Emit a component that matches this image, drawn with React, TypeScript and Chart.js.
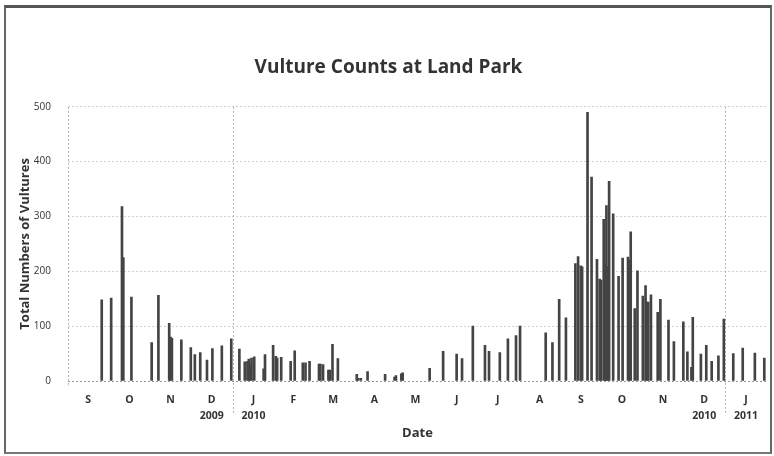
import { useEffect, useRef } from 'react';
import { Chart, registerables } from 'chart.js';

Chart.register(...registerables);

const chartTitle = 'Vulture Counts at Land Park';
const xTitle = 'Date';
const yTitle = 'Total Numbers of Vultures';

const axisStart = '2009-09-01';
const monthCount = 17;
const monthLabels = ['S', 'O', 'N', 'D', 'J', 'F', 'M', 'A', 'M', 'J', 'J', 'A', 'S', 'O', 'N', 'D', 'J'];
const yearLabels = ['', '', '', '2009', '2010', '', '', '', '', '', '', '', '', '', '', '2010', '2011'];
const yearBreaks = ['2010-01-01', '2011-01-01'];
const yMax = 500;
const yStep = 100;

const surveyDates = [
  '2009-09-26', '2009-10-03', '2009-10-11', '2009-10-12', '2009-10-18', '2009-11-02', '2009-11-07',
  '2009-11-15', '2009-11-16', '2009-11-17', '2009-11-24', '2009-12-01', '2009-12-04', '2009-12-08',
  '2009-12-13', '2009-12-17', '2009-12-24', '2009-12-31',
  '2010-01-06', '2010-01-10', '2010-01-12', '2010-01-13', '2010-01-14', '2010-01-15', '2010-01-17',
  '2010-01-24', '2010-01-25', '2010-01-31', '2010-02-02', '2010-02-03', '2010-02-06', '2010-02-13',
  '2010-02-16', '2010-02-22', '2010-02-24', '2010-02-27', '2010-03-06', '2010-03-07', '2010-03-09',
  '2010-03-13', '2010-03-14', '2010-03-16', '2010-03-20', '2010-04-03', '2010-04-04', '2010-04-06',
  '2010-04-11', '2010-04-24', '2010-05-01', '2010-05-02', '2010-05-06', '2010-05-07', '2010-05-27',
  '2010-06-06', '2010-06-16', '2010-06-20', '2010-06-28', '2010-07-07', '2010-07-10', '2010-07-18',
  '2010-07-24', '2010-07-30', '2010-08-02', '2010-08-21', '2010-08-26', '2010-08-31', '2010-09-05',
  '2010-09-12', '2010-09-14', '2010-09-16', '2010-09-17', '2010-09-21', '2010-09-24', '2010-09-28',
  '2010-09-30', '2010-10-01', '2010-10-03', '2010-10-04', '2010-10-05', '2010-10-06', '2010-10-07',
  '2010-10-10', '2010-10-14', '2010-10-17', '2010-10-21', '2010-10-22', '2010-10-23', '2010-10-26',
  '2010-10-28', '2010-11-01', '2010-11-03', '2010-11-04', '2010-11-05', '2010-11-07', '2010-11-12',
  '2010-11-14', '2010-11-20', '2010-11-24', '2010-12-01', '2010-12-04', '2010-12-07', '2010-12-08',
  '2010-12-14', '2010-12-18', '2010-12-22', '2010-12-27', '2010-12-31',
  '2011-01-07', '2011-01-14', '2011-01-23', '2011-01-30',
];

const vultureCounts = [
  148, 151, 318, 225, 153, 70, 156,
  105, 80, 78, 75, 61, 48, 52,
  38, 59, 64, 77,
  58, 35, 36, 40, 30, 42, 44,
  22, 48, 65, 45, 42, 43, 36,
  55, 33, 33, 36, 31, 31, 30,
  20, 20, 67, 41, 12, 5, 5,
  17, 12, 7, 10, 13, 15, 23,
  54, 49, 41, 100, 65, 54, 52,
  77, 83, 100, 88, 70, 149, 115,
  214, 227, 210, 208, 490, 372, 222,
  186, 184, 295, 212, 320, 208, 364,
  305, 191, 224, 226, 220, 272, 132,
  201, 155, 174, 144, 144, 157, 125,
  149, 111, 72, 108, 53, 25, 116,
  49, 65, 36, 46, 113,
  50, 60, 51, 42,
];

const FONT = '"Open Sans", "Noto Sans", sans-serif';
const DAY_MS = 86400000;

function parseDay(s: string): number {
  const [y, m, d] = s.split('-').map(Number);
  return Date.UTC(y, m - 1, d);
}
const base = parseDay(axisStart);
const toDay = (s: string) => (parseDay(s) - base) / DAY_MS;

const [sy, sm] = axisStart.split('-').map(Number);
const monthMids: number[] = [];
for (let i = 0; i < monthCount; i++) {
  const a = Date.UTC(sy, sm - 1 + i, 1);
  const b = Date.UTC(sy, sm + i, 1);
  monthMids.push(((a + b) / 2 - base) / DAY_MS);
}
const axisEnd = (Date.UTC(sy, sm - 1 + monthCount, 1) - base) / DAY_MS;

const dividerPlugin = {
  id: 'dividers',
  beforeDatasetsDraw(chart: any) {
    const { ctx, chartArea, scales } = chart;
    const xs = scales.x;
    ctx.save();
    ctx.lineWidth = 1;
    ctx.setLineDash([2, 2]);
    ctx.strokeStyle = '#b0b0b0';
    const left = Math.round(xs.getPixelForValue(0)) + 0.5;
    ctx.beginPath();
    ctx.moveTo(left, chartArea.top);
    ctx.lineTo(left, chartArea.bottom + 6);
    ctx.stroke();
    for (const d of yearBreaks) {
      const px = Math.round(xs.getPixelForValue(toDay(d))) + 0.5;
      ctx.beginPath();
      ctx.moveTo(px, chartArea.top);
      ctx.lineTo(px, chartArea.bottom + 33);
      ctx.stroke();
    }
    ctx.restore();
  },
};

export default function App() {
  const ref = useRef<HTMLCanvasElement | null>(null);

  useEffect(() => {
    if (!ref.current) return;
    const points = surveyDates.map((d, i) => ({ x: toDay(d), y: vultureCounts[i] }));
    const chart = new Chart(ref.current, {
      type: 'bar',
      data: {
        datasets: [
          {
            data: points as any,
            backgroundColor: '#444',
            borderWidth: 0,
            barThickness: 2,
          },
        ],
      },
      options: {
        animation: false,
        responsive: true,
        maintainAspectRatio: false,
        layout: { padding: { left: 10, right: 7, top: 0, bottom: 10 } },
        plugins: {
          legend: { display: false },
          tooltip: { enabled: false },
          title: {
            display: true,
            text: chartTitle,
            color: '#333',
            font: { family: FONT, size: 19, weight: 'bold', lineHeight: 1.2 },
            padding: { top: 56, bottom: 28 },
          },
        },
        scales: {
          x: {
            type: 'linear',
            min: 0,
            max: axisEnd,
            offset: false,
            grid: { display: false },
            border: { display: false },
            afterBuildTicks: (s: any) => {
              s.ticks = monthMids.map((v) => ({ value: v }));
            },
            afterFit: (s: any) => {
              s.height = 65;
            },
            ticks: {
              autoSkip: false,
              maxRotation: 0,
              minRotation: 0,
              padding: 3,
              color: '#333',
              font: { family: FONT, size: 10.5, weight: 'bold', lineHeight: 1.5 },
              callback: (_v: any, i: number) => (yearLabels[i] ? [monthLabels[i], yearLabels[i]] : monthLabels[i]),
            },
            title: {
              display: true,
              text: xTitle,
              color: '#333',
              font: { family: FONT, size: 13, weight: 'bold', lineHeight: 1.2 },
              padding: { top: 0, bottom: 5 },
            },
          },
          y: {
            min: 0,
            max: yMax,
            afterFit: (s: any) => {
              s.width = 58;
            },
            ticks: {
              stepSize: yStep,
              padding: 17,
              color: '#333',
              font: { family: FONT, size: 10 },
            },
            grid: {
              drawTicks: false,
              color: (c: any) => (c.tick && c.tick.value === 0 ? '#999' : '#d2d2d2'),
            },
            border: { display: false, dash: [2, 2] },
            title: {
              display: true,
              text: yTitle,
              color: '#333',
              font: { family: FONT, size: 13, weight: 'bold', lineHeight: 1.2 },
              padding: { top: 7, bottom: 0 },
            },
          },
        },
      } as any,
      plugins: [dividerPlugin],
    });
    return () => chart.destroy();
  }, []);

  return (
    <div style={{ position: 'fixed', left: 0, top: 0, width: 774, height: 456, background: '#fff' }}>
      <canvas ref={ref} />
      <div
        style={{
          position: 'absolute',
          left: 4,
          top: 5,
          width: 768,
          height: 449,
          boxSizing: 'border-box',
          borderTop: '3px solid #555',
          borderLeft: '2px solid #666',
          borderRight: '2px solid #666',
          borderBottom: '2px solid #777',
          pointerEvents: 'none',
        }}
      />
    </div>
  );
}
